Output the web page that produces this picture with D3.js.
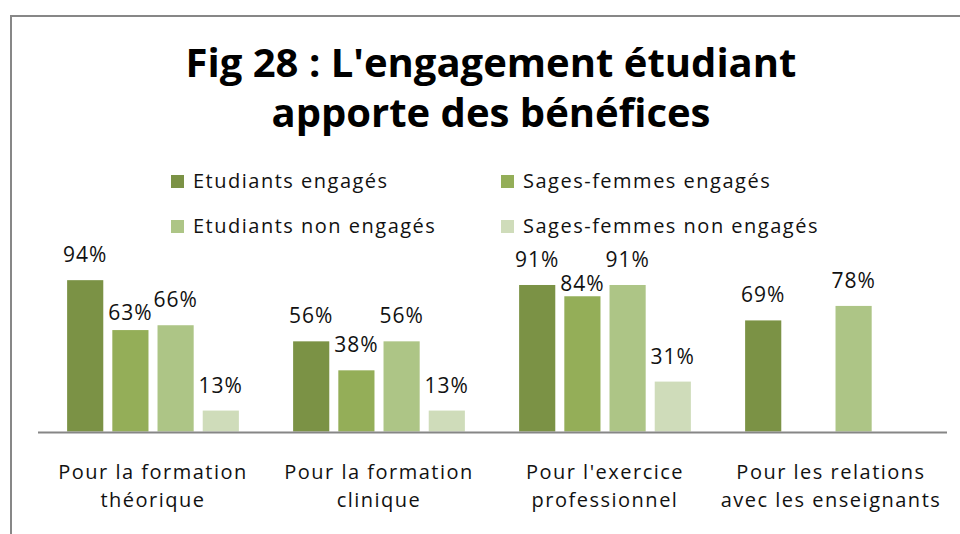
<!DOCTYPE html>
<html>
<head>
<meta charset="utf-8">
<script src="https://cdn.jsdelivr.net/npm/d3@7"></script>
<style>
  body { margin: 0; background: #fff; }
  svg { display: block; font-family: 'Open Sans', sans-serif; }
</style>
</head>
<body>
<div id="chart"></div>
<script>
'use strict';

// data
var categories = [
	['Pour la formation', 'théorique'],
	['Pour la formation', 'clinique'],
	['Pour l\'exercice', 'professionnel'],
	['Pour les relations', 'avec les enseignants']
];
var series = ['Etudiants engagés', 'Sages-femmes engagés', 'Etudiants non engagés', 'Sages-femmes non engagés'];
var etudiantsEngages = [94, 56, 91, 69];
var sagesFemmesEngages = [63, 38, 84, null];
var etudiantsNonEngages = [66, 56, 91, 78];
var sagesFemmesNonEngages = [13, 13, 31, null];
var titleLines = ['Fig 28 : L\'engagement étudiant', 'apporte des bénéfices'];

var colors = ['#7b9245', '#94ae58', '#adc586', '#cfdcba'];
// two labels were pulled down in the original to avoid overlaps
var labelNudge = { '0-1': 8, '2-1': 13 };

var values = [etudiantsEngages, sagesFemmesEngages, etudiantsNonEngages, sagesFemmesNonEngages];

var width = 960, height = 534;
var svg = d3.select('#chart').append('svg')
	.attr('width', width)
	.attr('height', height);

// frame
svg.append('path')
	.attr('d', 'M11,' + height + 'V16H' + width)
	.attr('fill', 'none')
	.attr('stroke', '#878787')
	.attr('stroke-width', 2);

// title
svg.append('text')
	.attr('x', 491)
	.attr('y', 77)
	.attr('text-anchor', 'middle')
	.style('font-weight', 'bold')
	.style('font-size', '40px')
	.selectAll('tspan')
	.data(titleLines)
.enter().append('tspan')
	.attr('x', 491)
	.attr('y', function(d, i) { return 77 + i * 50; })
	.text(function(d) { return d; });

// legend
var legend = svg.append('g').attr('class', 'legend');
var legendPos = [[171, 175], [501, 175], [171, 220], [501, 220]];
legend.selectAll('g')
	.data(series)
.enter().append('g')
	.each(function(d, i) {
		var g = d3.select(this);
		g.append('rect')
			.attr('x', legendPos[i][0])
			.attr('y', legendPos[i][1])
			.attr('width', 13)
			.attr('height', 13)
			.attr('fill', colors[i]);
		g.append('text')
			.attr('x', legendPos[i][0] + 22)
			.attr('y', legendPos[i][1] + 13)
			.style('font-size', '20px')
			.style('letter-spacing', '1.5px')
			.attr('fill', '#111')
			.text(d);
	});

var baseline = 431.5;

var x0 = d3.scaleBand()
	.domain(d3.range(categories.length))
	.range([40, 944]);

var x1 = d3.scaleBand()
	.domain(d3.range(series.length))
	.range([0, x0.bandwidth()])
	.paddingInner(0.2)
	.paddingOuter(0.6);

var y = d3.scaleLinear()
	.domain([0, 100])
	.range([baseline, baseline - 161]);

var groups = svg.selectAll('.group')
	.data(categories)
.enter().append('g')
	.attr('class', 'group')
	.attr('transform', function(d, i) { return 'translate(' + x0(i) + ',0)'; });

groups.each(function(cat, ci) {
	var g = d3.select(this);
	var pts = values.map(function(v, si) { return { s: si, v: v[ci] }; })
		.filter(function(d) { return d.v != null; });

	g.selectAll('rect')
		.data(pts)
	.enter().append('rect')
		.attr('x', function(d) { return x1(d.s); })
		.attr('y', function(d) { return y(d.v); })
		.attr('width', x1.bandwidth())
		.attr('height', function(d) { return baseline - y(d.v); })
		.attr('fill', function(d) { return colors[d.s]; });

	g.selectAll('text.value')
		.data(pts)
	.enter().append('text')
		.attr('class', 'value')
		.attr('x', function(d) { return x1(d.s) + x1.bandwidth() / 2; })
		.attr('y', function(d) { return y(d.v) - 18 + (labelNudge[ci + '-' + d.s] || 0); })
		.attr('text-anchor', 'middle')
		.style('font-size', '21px')
		.style('letter-spacing', '1px')
		.attr('fill', '#111')
		.text(function(d) { return d.v + '%'; });
});

// x axis: plain line, no ticks
svg.append('line')
	.attr('x1', 38)
	.attr('x2', 947)
	.attr('y1', baseline + 1)
	.attr('y2', baseline + 1)
	.attr('stroke', '#868686')
	.attr('stroke-width', 2);

var catLabels = svg.append('g')
	.attr('class', 'axis axis--x')
	.selectAll('text')
	.data(categories)
.enter().append('text')
	.attr('text-anchor', 'middle')
	.style('font-size', '20px')
	.style('letter-spacing', '1.5px')
	.attr('fill', '#111');

catLabels.selectAll('tspan')
	.data(function(d, i) { return d.map(function(t) { return { t: t, i: i }; }); })
.enter().append('tspan')
	.attr('x', function(d) { return x0(d.i) + x0.bandwidth() / 2; })
	.attr('y', function(d, j) { return 479 + j * 28; })
	.text(function(d) { return d.t; });
</script>
</body>
</html>
